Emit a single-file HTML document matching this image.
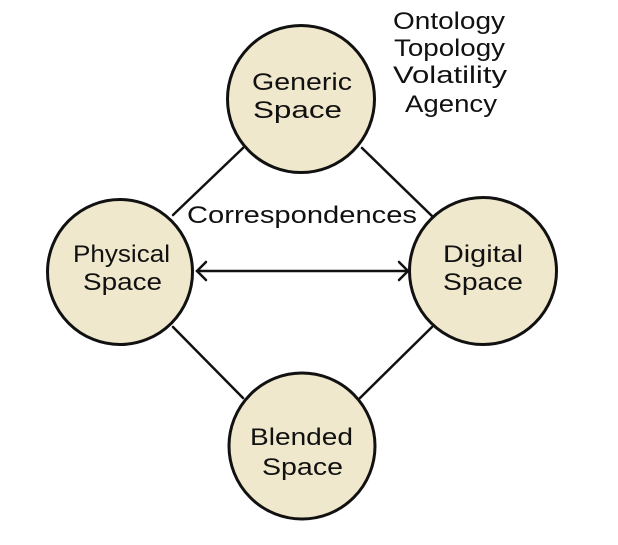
<!DOCTYPE html>
<html>
<head>
<meta charset="utf-8">
<style>
  html, body { margin: 0; padding: 0; background: #ffffff; }
  svg { display: block; }
  text { font-family: "Liberation Sans", "DejaVu Sans", sans-serif; fill: #111; }
</style>
</head>
<body>
<svg width="618" height="545" viewBox="0 0 618 545" xmlns="http://www.w3.org/2000/svg">
  <rect width="618" height="545" fill="#ffffff"/>

  <!-- connector lines -->
  <g stroke="#111" stroke-width="2.5" stroke-linecap="round" fill="none">
    <line x1="243" y1="148" x2="173" y2="215"/>
    <line x1="362" y1="148" x2="432" y2="216"/>
    <line x1="173" y1="327" x2="243" y2="398"/>
    <line x1="432" y1="327" x2="360" y2="398"/>
    <!-- double arrow -->
    <line x1="197" y1="271" x2="408" y2="271"/>
    <polyline points="206,262 197,271 206,280"/>
    <polyline points="399,262 408,271 399,280"/>
  </g>

  <!-- circles -->
  <g fill="#f0e8cd" stroke="#111" stroke-width="3">
    <circle cx="301" cy="99" r="73.5"/>
    <circle cx="120" cy="272" r="72.5"/>
    <circle cx="483" cy="271" r="73.5"/>
    <circle cx="302" cy="446" r="73"/>
  </g>

  <!-- circle labels -->
  <g font-size="24">
    <text x="252" y="90" textLength="100" lengthAdjust="spacingAndGlyphs">Generic</text>
    <text x="253" y="118" textLength="89" lengthAdjust="spacingAndGlyphs">Space</text>

    <text x="73" y="262" textLength="97" lengthAdjust="spacingAndGlyphs">Physical</text>
    <text x="83" y="290" textLength="79" lengthAdjust="spacingAndGlyphs">Space</text>

    <text x="443" y="262" textLength="80" lengthAdjust="spacingAndGlyphs">Digital</text>
    <text x="443" y="290" textLength="80" lengthAdjust="spacingAndGlyphs">Space</text>

    <text x="250" y="445" textLength="103" lengthAdjust="spacingAndGlyphs">Blended</text>
    <text x="262" y="475" textLength="81" lengthAdjust="spacingAndGlyphs">Space</text>
  </g>

  <!-- top-right list -->
  <g font-size="24">
    <text x="393" y="29" textLength="112" lengthAdjust="spacingAndGlyphs">Ontology</text>
    <text x="394" y="56" textLength="111" lengthAdjust="spacingAndGlyphs">Topology</text>
    <text x="393" y="83" textLength="114" lengthAdjust="spacingAndGlyphs">Volatility</text>
    <text x="405" y="112" textLength="92" lengthAdjust="spacingAndGlyphs">Agency</text>
  </g>

  <!-- connector label -->
  <text x="187" y="223" font-size="24" textLength="230" lengthAdjust="spacingAndGlyphs">Correspondences</text>
</svg>
</body>
</html>
